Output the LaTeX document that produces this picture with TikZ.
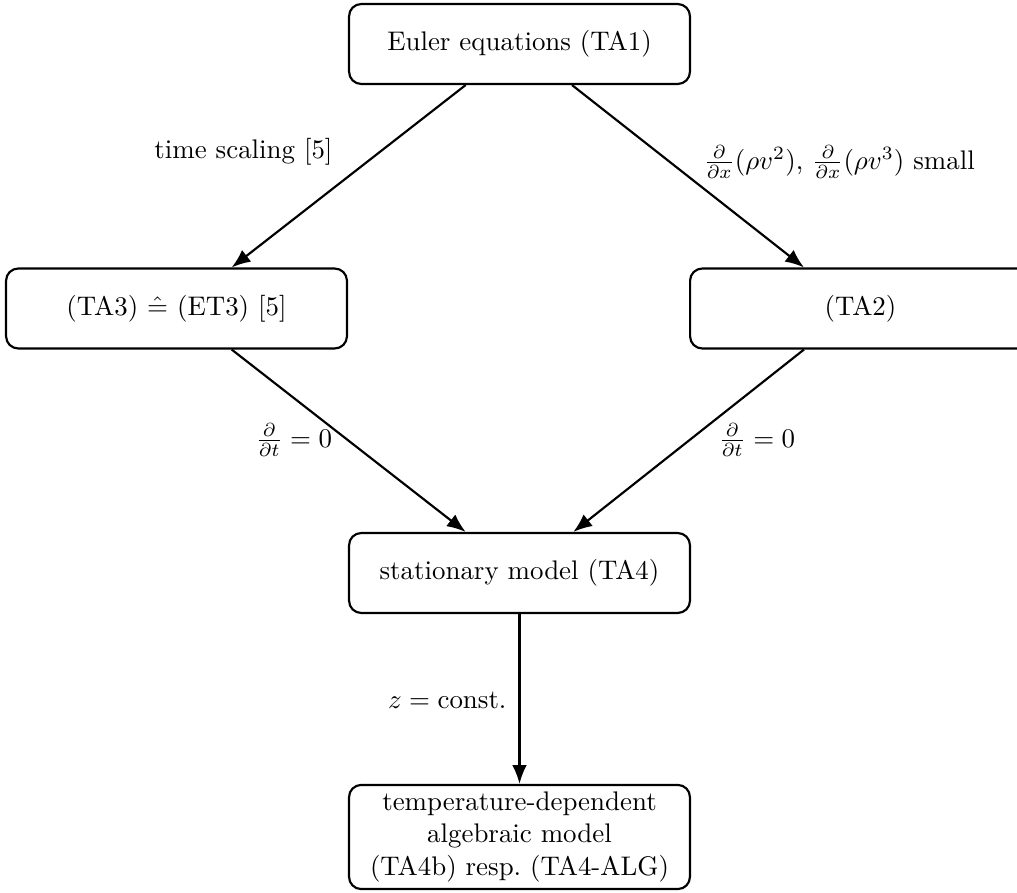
\documentclass[tikz,border=0pt]{standalone}
\usepackage{amsmath}
\usetikzlibrary{arrows.meta,calc}
\begin{document}
\begin{tikzpicture}[x=0.3717pt,y=-0.3717pt,
  box/.style={draw,thick,rounded corners=4.5pt,minimum width=126.7pt,minimum height=29.7pt,align=center,inner sep=2pt},
  arr/.style={thick,-{Latex[length=7pt,width=5.5pt]}},
  lbl/.style={inner sep=0pt}]
\useasboundingbox (0,0) rectangle (1017,893);
\clip (0,0) rectangle (1017,893);
\node[box] (ta1) at (519.5,44) {Euler equations (TA1)};
\node[box] (ta3) at (176.5,308.5) {(TA3) $\mathrel{\hat{=}}$ (ET3) [5]};
\node[box] (ta2) at (860.5,308.5) {(TA2)};
\node[box] (ta4) at (519.5,573) {stationary model (TA4)};
\node[box,minimum height=38.7pt,inner sep=1pt] (alg) at (519.5,837) {temperature-dependent\\algebraic model\\(TA4b) resp.\ (TA4-ALG)};
\draw[arr] ([xshift=-20pt]ta1.south) -- ([xshift=20.5pt]ta3.north);
\draw[arr] ([xshift=19.5pt]ta1.south) -- ([xshift=-21pt]ta2.north);
\draw[arr] ([xshift=20.5pt]ta3.south) -- ([xshift=-20pt]ta4.south |- ta4.north);
\draw[arr] ([xshift=-21pt]ta2.south) -- ([xshift=20pt]ta4.south |- ta4.north);
\draw[arr] (ta4.south) -- (alg.north);
\node[lbl,anchor=east] (l1) at (333,152) {time scaling [5]};
\node[lbl,anchor=west] (l2) at (703,162) {$\frac{\partial}{\partial x}(\rho v^2)$, $\frac{\partial}{\partial x}(\rho v^3)$ small};
\node[lbl,anchor=west] (l3) at (255,440) {$\frac{\partial}{\partial t}=0$};
\node[lbl,anchor=west] (l4) at (718,440) {$\frac{\partial}{\partial t}=0$};
\node[lbl,anchor=east] (l5) at (507,700) {$z=\text{const.}$};
\end{tikzpicture}
\end{document}
